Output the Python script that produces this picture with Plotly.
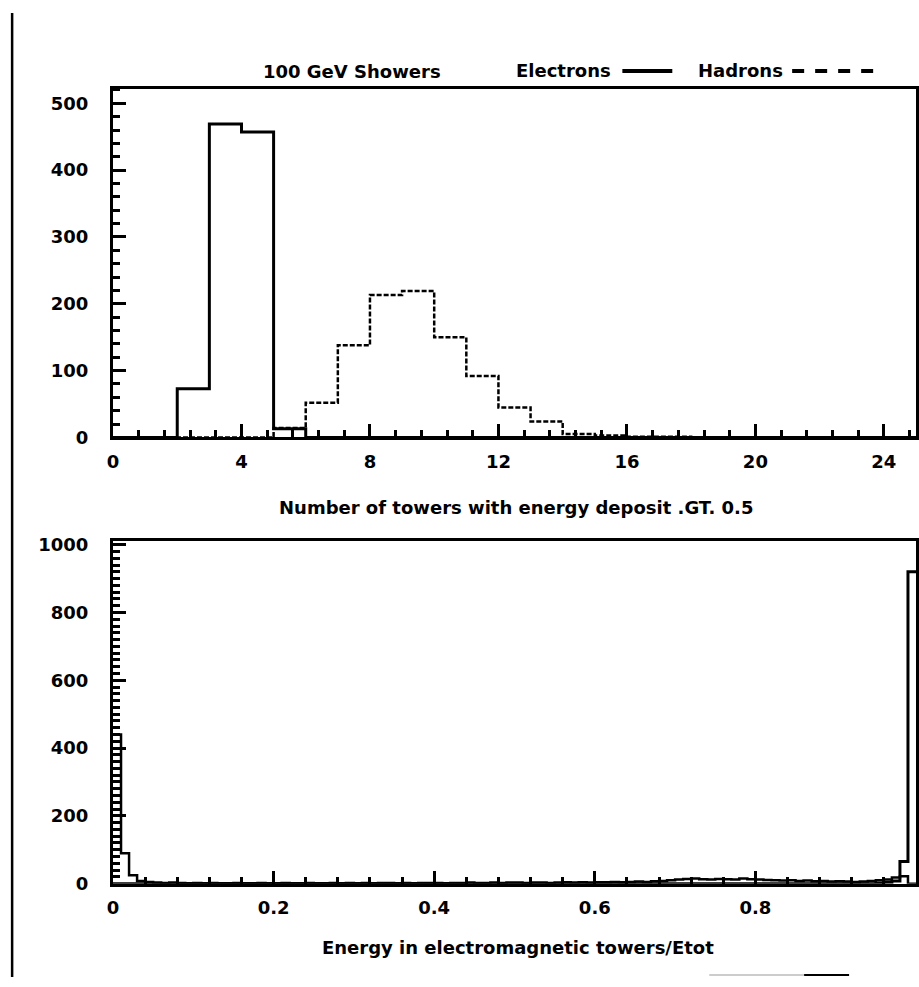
import plotly.graph_objects as go

# ---------------- data ----------------
# Top panel: number of towers with energy deposit > 0.5 (bins of width 1, 0..25)
tower_edges = [0, 1, 2, 3, 4, 5, 6, 7, 8, 9, 10, 11, 12, 13, 14, 15, 16, 17, 18, 19, 20, 21, 22, 23, 24, 25]
electrons_towers = [0, 0, 73, 469, 457, 13, 0, 0, 0, 0, 0, 0, 0, 0, 0, 0, 0, 0, 0, 0, 0, 0, 0, 0, 0]
hadrons_towers = [0, 0, 0, 0, 0, 14, 52, 138, 213, 219, 150, 92, 45, 24, 5, 3, 1, 1, 0, 0, 0, 0, 0, 0, 0]

# Bottom panel: energy in EM towers / Etot (bins of width 0.01, 0..1)
emfrac_edges = [i / 100 for i in range(101)]
electrons_emfrac = [0] * 95 + [2, 4, 8, 65, 920]
hadrons_emfrac = [
    440, 90, 25, 8, 5, 3, 2, 3, 2, 1,
    2, 1, 2, 1, 1, 2, 1, 1, 2, 1,
    1, 2, 1, 1, 2, 1, 1, 2, 1, 2,
    1, 2, 1, 2, 2, 1, 2, 1, 2, 2,
    2, 1, 2, 2, 3, 2, 2, 3, 2, 3,
    3, 2, 3, 3, 2, 3, 4, 3, 4, 3,
    4, 4, 5, 4, 5, 6, 5, 7, 8, 10,
    12, 14, 15, 13, 12, 14, 13, 12, 15, 13,
    12, 11, 10, 9, 10, 8, 9, 7, 8, 6,
    7, 6, 5, 6, 8, 10, 12, 18, 22, 0,
]

top_yticks = [0, 100, 200, 300, 400, 500]
top_xticks = [0, 4, 8, 12, 16, 20, 24]
bot_yticks = [0, 200, 400, 600, 800, 1000]
bot_xticks = [0, 0.2, 0.4, 0.6, 0.8, 1]

title_text = "100 GeV Showers"
legend_e = "Electrons"
legend_h = "Hadrons"
xtitle_top = "Number of towers with energy deposit .GT. 0.5"
xtitle_bot = "Energy in electromagnetic towers/Etot"

# ---------------- layout helpers ----------------
W, H = 919, 987
L, R = 113, 2


def px(xp):
    return (xp - L) / (W - L - R)


def py(yp):
    return 1 - yp / H


FONT = "DejaVu Sans"
BLACK = "black"


def step(edges, counts):
    return list(edges), list(counts) + [counts[-1]]


fig = go.Figure()

x, y = step(tower_edges, electrons_towers)
fig.add_trace(go.Scatter(x=x, y=y, mode="lines", line=dict(shape="hv", color=BLACK, width=3),
                         xaxis="x", yaxis="y", showlegend=False, hoverinfo="skip"))
x, y = step(tower_edges, hadrons_towers)
fig.add_trace(go.Scatter(x=x, y=y, mode="lines", line=dict(shape="hv", color=BLACK, width=2.5, dash="5px,2px"),
                         xaxis="x", yaxis="y", showlegend=False, hoverinfo="skip"))

x, y = step(emfrac_edges, hadrons_emfrac)
fig.add_trace(go.Scatter(x=x, y=y, mode="lines", line=dict(shape="hv", color=BLACK, width=2.5),
                         xaxis="x2", yaxis="y2", showlegend=False, hoverinfo="skip"))
x, y = step(emfrac_edges, electrons_emfrac)
fig.add_trace(go.Scatter(x=x, y=y, mode="lines", line=dict(shape="hv", color=BLACK, width=3),
                         xaxis="x2", yaxis="y2", showlegend=False, hoverinfo="skip"))

tickfont = dict(family=FONT, size=18, color=BLACK, weight="bold")


def axis(**kw):
    d = dict(showgrid=False, zeroline=False, showline=True, linecolor=BLACK, linewidth=3,
             mirror=True, ticks="inside", ticklen=13, tickwidth=3, tickcolor=BLACK,
             tickfont=tickfont, layer="above traces")
    d.update(kw)
    return d


def minor(dt):
    return dict(dtick=dt, tick0=0, ticks="inside", ticklen=7, tickwidth=2.5, tickcolor=BLACK, showgrid=False)


fig.update_layout(
    width=W, height=H,
    margin=dict(l=L, r=R, t=0, b=0),
    paper_bgcolor="white", plot_bgcolor="white",
    xaxis=axis(domain=[0, 1], range=[0, 25], anchor="y", tickvals=top_xticks,
               minor=minor(0.8), ticklabelstandoff=6),
    yaxis=axis(domain=[py(438), py(83)], range=[0, 522], anchor="x", tickvals=top_yticks,
               minor=minor(20), ticklabelstandoff=18),
    xaxis2=axis(domain=[0, 1], range=[0, 1], anchor="y2", tickvals=bot_xticks,
                ticktext=["0", "0.2", "0.4", "0.6", "0.8", "1"],
                minor=minor(0.04), ticklabelstandoff=6),
    yaxis2=axis(domain=[py(892), py(543)], range=[0, 1012], anchor="x2", tickvals=bot_yticks,
                minor=minor(20), ticklabelstandoff=18),
)

txtfont = dict(family=FONT, size=18, color=BLACK, weight="bold")
annos = [
    (title_text, 352, 66),
    (legend_e, 564, 65),
    (legend_h, 741, 65),
    (xtitle_top, 517, 509),
    (xtitle_bot, 519, 957),
]
for t, xp, yp in annos:
    fig.add_annotation(text=t, x=px(xp), y=py(yp), xref="paper", yref="paper",
                       showarrow=False, font=txtfont, xanchor="center", yanchor="middle")

# legend samples
fig.add_shape(type="line", xref="paper", yref="paper", x0=px(623), x1=px(673), y0=py(65), y1=py(65),
              line=dict(color=BLACK, width=4))
fig.add_shape(type="line", xref="paper", yref="paper", x0=px(793), x1=px(877), y0=py(65), y1=py(65),
              line=dict(color=BLACK, width=4, dash="12px,11px"))

# scan border line on the left
fig.add_shape(type="line", xref="paper", yref="paper", x0=px(12), x1=px(12), y0=py(6), y1=py(987),
              line=dict(color=BLACK, width=2.5))
# small scan mark at bottom right
fig.add_shape(type="line", xref="paper", yref="paper", x0=px(710), x1=px(812), y0=py(985), y1=py(985),
              line=dict(color="#bbbbbb", width=1.5))
fig.add_shape(type="line", xref="paper", yref="paper", x0=px(805), x1=px(850), y0=py(985), y1=py(985),
              line=dict(color=BLACK, width=2))

fig.write_html("out.html")
